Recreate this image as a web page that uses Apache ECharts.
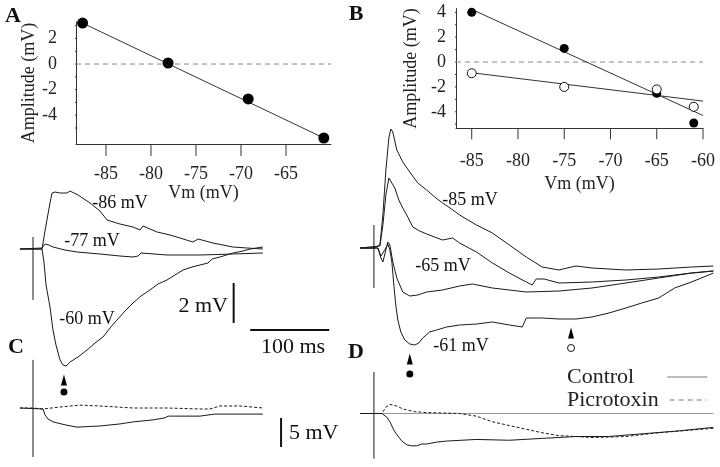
<!DOCTYPE html>
<html>
<head>
<meta charset="utf-8">
<script src="https://cdn.jsdelivr.net/npm/echarts@6/dist/echarts.min.js"></script>
<style>html,body{margin:0;padding:0;background:#fff;}#c{width:720px;height:467px;}</style>
</head>
<body>
<div id="c"></div>
<script>
// ---------- Data ----------
const vmTicksA = [-85, -80, -75, -70, -65];
const ampLabelsA = [-4, -2, 0, 2];
const ampTicksA = [-5, -4, -3, -2, -1, 0, 1, 2, 3];
const vmTicksB = [-85, -80, -75, -70, -65, -60];
const ampLabelsB = [-4, -2, 0, 2, 4];
const ampTicksB = [-5, -4, -3, -2, -1, 0, 1, 2, 3, 4];

const pointsA = [[-87.6, 3.2], [-78.1, 0.08], [-69.2, -2.73], [-60.8, -5.78]];
const fitA = [[-87.6, 3.2], [-60.8, -5.78]];
const pointsBFilled = [[-85, 4.0], [-75, 1.1], [-65, -2.52], [-61, -4.9]];
const pointsBOpen = [[-85, -0.9], [-75, -2.0], [-65, -2.2], [-61, -3.6]];
const fitBFilled = [[-85, 4.24], [-60, -4.3]];
const fitBOpen = [[-85, -0.86], [-60, -3.14]];
const zeroA = [[-88.33, 0], [-60, 0]];
const zeroB = [[-86.7, 0], [-60, 0]];

// traces (time ms, mV)
const traceA86 = [[-16.5,0],[11.4,0],[16.5,1.2],[21.5,2.3],[24.1,2.8],[27.8,2.85],[34.2,2.8],[43,2.8],[46.8,2.9],[57,2.7],[72.2,2.3],[84.8,1.9],[93.7,1.45],[110,1.25],[126.6,1.1],[135.4,0.95],[139.2,1.15],[157,0.85],[173.4,0.7],[186,0.55],[202.5,0.35],[209,0.5],[227.8,0.3],[253,0.1],[271,0.05],[291,0]];
const traceA77 = [[-16.5,0],[11.4,0.05],[15.2,0.25],[20,0.2],[25.3,0.1],[40.5,-0.05],[55.7,-0.15],[84.8,-0.25],[110,-0.35],[126.6,-0.4],[133,-0.35],[136.7,-0.2],[169.6,-0.3],[211.4,-0.3],[253,-0.25],[291,-0.2]];
const traceA60 = [[-16.5,0],[11.4,0],[13.9,-0.65],[16.5,-1.8],[21.5,-2.9],[25.3,-4.05],[29.1,-4.8],[34.2,-5.55],[38,-5.8],[41.8,-5.85],[46.8,-5.65],[57,-5.4],[68.4,-5.05],[78.5,-4.7],[88.6,-4.4],[97.5,-3.95],[106.3,-3.55],[116.5,-3.1],[126.6,-2.7],[136.7,-2.35],[148,-2.05],[158.2,-1.75],[169.6,-1.55],[179.7,-1.3],[189.9,-1.05],[201.3,-0.9],[211.4,-0.8],[221.5,-0.7],[226.6,-0.5],[236.7,-0.4],[253,-0.2],[265.8,-0.1],[274.7,0],[291,0.1]];
const stimA = [[0, 0.6], [0, -2.55]];
const barA_mV = [[254, -1.7], [254, -3.7]];
const barA_ms = [[275, -4.05], [375, -4.05]];
const arrowA = [[39.2, -6.55]];
const dotA = [[39.2, -7.15]];

const traceB85 = [[-17.7,0],[0,0],[7.6,0.15],[11.4,1.65],[15.2,3.9],[19,5.5],[21.5,5.95],[24,5.8],[29.1,4.9],[36.7,4.3],[45.6,3.8],[55.7,3.25],[67.1,2.9],[77.2,2.55],[87.3,2.25],[98.7,1.95],[108.9,1.65],[130.4,1.15],[150.6,0.75],[172.2,0.15],[193.7,-0.45],[213.9,-0.95],[235.4,-1.1],[245.6,-1.0],[257,-0.9],[277.2,-1.0],[298.7,-1.05],[320.3,-1.1],[362,-1.05],[403.8,-0.95],[431.6,-0.9]];
const traceB75 = [[-17.7,0],[7.6,0.1],[11.4,1.15],[15.2,2.65],[19,3.5],[21.5,3.4],[26.6,3.0],[31.6,2.4],[36.7,2.0],[43,1.55],[49.4,1.05],[58.2,0.85],[67.1,0.7],[87.3,0.4],[100,0.5],[108.9,0.25],[130.4,-0.2],[150.6,-0.75],[172.2,-1.25],[193.7,-1.7],[201.3,-1.85],[206.3,-1.55],[216.5,-1.55],[235.4,-1.75],[277.2,-1.7],[320.3,-1.6],[362,-1.45],[403.8,-1.25],[431.6,-1.15]];
const traceB65 = [[-17.7,0],[5,0],[8.9,-0.5],[11.4,-0.7],[15.2,-0.1],[17.7,0.3],[20.3,0.15],[24,-0.7],[29.1,-1.5],[36.7,-2.2],[45.6,-2.4],[55.7,-2.35],[67.1,-2.2],[87.3,-2.1],[108.9,-1.9],[125.3,-1.8],[150.6,-2.0],[193.7,-2.2],[235.4,-2.15],[277.2,-2.0],[320.3,-1.75],[362,-1.5],[403.8,-1.25],[431.6,-1.15]];
const traceB61 = [[-17.7,0],[5,0],[8.9,-0.4],[11.4,-0.5],[15.2,0],[17.7,0.2],[20.3,-0.1],[22.8,-0.7],[25.3,-1.85],[27.8,-2.85],[30.4,-3.6],[34.2,-4.2],[39.2,-4.6],[45.6,-4.8],[51.9,-4.85],[57,-4.75],[62,-4.5],[70.9,-4.2],[79.7,-4.1],[92.4,-3.95],[108.9,-3.85],[130.4,-3.8],[150.6,-3.7],[172.2,-3.85],[188.6,-3.95],[193.7,-3.5],[213.9,-3.5],[235.4,-3.55],[257,-3.55],[277.2,-3.45],[298.7,-3.25],[320.3,-3.0],[340.5,-2.75],[362,-2.5],[372.2,-2.25],[382.3,-2.0],[403.8,-1.7],[431.6,-1.25]];
const stimB = [[0, 1.15], [0, -2.0]];
const arrowBFilled = [[45.6, -5.55]];
const dotBFilled = [[45.6, -6.3]];
const arrowBOpen = [[250.6, -4.25]];
const dotBOpen = [[250.6, -5.0]];

const traceCControl = [[-16.5,0],[12.7,-0.17],[15.2,-1.2],[19,-1.9],[25.3,-2.4],[40.5,-2.9],[55.7,-3.3],[84.8,-3.1],[110,-2.75],[126.6,-2.4],[152,-2.05],[167,-1.7],[171,-1.4],[211.4,-1.4],[230,-1.05],[262,-1.05],[291,-1.05]];
const traceCPicro = [[-16.5,0],[0,0],[12.7,-0.17],[34.2,0.17],[59.5,0.5],[84.8,0.35],[126.6,0],[169.6,0],[211.4,-0.17],[224,-0.17],[236.7,0.35],[262,0.35],[291,0]];
const stimC = [[0, 8.3], [0, -8.45]];
const barC_mV = [[314, -1.72], [314, -6.72]];

const zeroD = [[10, 0], [431.6, 0]];
const traceDControl = [[-17.7,0],[0,0],[10.1,0],[16.5,-0.7],[20.3,-1.55],[25.3,-3.1],[29.1,-3.95],[35.4,-5.15],[41.8,-5.85],[48.1,-6.05],[54.4,-6.05],[60.8,-5.7],[67.1,-5.7],[79.7,-5.35],[92.4,-5.15],[130.4,-4.85],[172.2,-5.0],[213.9,-4.65],[257,-4.3],[298.7,-4.3],[340.5,-3.8],[383.5,-3.3],[431.6,-2.6]];
const traceDPicro = [[0,0],[10.1,0],[15.2,1.2],[20.3,1.7],[29.1,1.4],[36.7,0.85],[51.9,0.35],[67.1,0.17],[108.9,0],[130.4,-0.5],[150.6,-1.55],[172.2,-2.25],[193.7,-2.95],[213.9,-3.6],[235.4,-4.15],[257,-4.3],[277.2,-4.5],[320.3,-4.3],[362,-3.6],[403.8,-3.1],[431.6,-2.75]];
const stimD = [[0, 7.75], [0, -8.45]];

// ---------- Chart ----------
const FONT = '"Liberation Serif", "Times New Roman", serif';
const INK = '#1a1a1a';
const chart = echarts.init(document.getElementById('c'), null, {renderer: 'canvas'});

const A_X = [-88.33, -60], A_Y = [-6.25, 3.3];
const B_X = [-86.7, -60], B_Y = [-5.33, 4.3];
const GA = {left: 76, top: 21.8, width: 255, height: 122.2};
const GB = {left: 456, top: 8.6, width: 247, height: 119.7};
// pixel -> data-unit factors (layout only)
const pxA = {x: (A_X[1] - A_X[0]) / GA.width, y: (A_Y[1] - A_Y[0]) / GA.height};
const pxB = {x: (B_X[1] - B_X[0]) / GB.width, y: (B_Y[1] - B_Y[0]) / GB.height};

function hiddenX(min, max, g) { return {type: 'value', gridIndex: g, min, max, show: false}; }
function hiddenY(min, max, g) { return {type: 'value', gridIndex: g, min, max, show: false}; }
function ln(data, xi, yi, opts) {
  return Object.assign({
    type: 'line', xAxisIndex: xi, yAxisIndex: yi, data, symbol: 'none', silent: true,
    color: INK, lineStyle: {color: INK, width: 1}, z: 3
  }, opts || {});
}
function pts(data, xi, yi, symbol, size, style) {
  return {type: 'scatter', xAxisIndex: xi, yAxisIndex: yi, data, symbol, symbolSize: size,
    itemStyle: Object.assign({opacity: 1}, style), silent: true, z: 5};
}
// tick marks as broken line series positioned on the axis scale
function yTickLine(xi, yi, xAt, values, majors, majorPx, minorPx, fx) {
  const d = [];
  values.forEach(v => {
    const len = (majors.indexOf(v) >= 0 ? majorPx : minorPx) * fx;
    d.push([xAt, v], [xAt - len, v], ['-', '-']);
  });
  return ln(d, xi, yi, {clip: false, connectNulls: false, z: 6, lineStyle: {color: '#333', width: 1}});
}
function xTickLine(xi, yi, yAt, values, lenPx, fy) {
  const d = [];
  values.forEach(v => { d.push([v, yAt], [v, yAt - lenPx * fy], ['-', '-']); });
  return ln(d, xi, yi, {clip: false, connectNulls: false, z: 6, lineStyle: {color: '#333', width: 1}});
}

const axisTxt = {color: '#222', fontFamily: FONT, fontSize: 18};
const axLine = () => ({show: true, onZero: false, lineStyle: {color: '#333', width: 1}});

const option = {
  animation: false,
  backgroundColor: '#fff',
  grid: [
    GA,
    GB,
    {left: 13.25, top: 169, width: 335.75, height: 230},
    {left: 358.2, top: 118, width: 363.4, height: 270},
    {left: 13.25, top: 350, width: 335.75, height: 116},
    {left: 358.2, top: 360, width: 363.4, height: 116}
  ],
  xAxis: [
    {type: 'value', gridIndex: 0, min: A_X[0], max: A_X[1], splitLine: {show: false},
     axisLine: axLine(), axisTick: {show: false},
     axisLabel: Object.assign({customValues: vmTicksA, margin: 21}, axisTxt),
     name: 'Vm (mV)', nameLocation: 'middle', nameGap: 38, nameTextStyle: axisTxt},
    {type: 'value', gridIndex: 1, min: B_X[0], max: B_X[1], splitLine: {show: false},
     axisLine: axLine(), axisTick: {show: false},
     axisLabel: Object.assign({customValues: vmTicksB, margin: 24}, axisTxt),
     name: 'Vm (mV)', nameLocation: 'middle', nameGap: 47, nameTextStyle: axisTxt},
    hiddenX(-25, 400, 2),
    hiddenX(-20, 440, 3),
    hiddenX(-25, 400, 4),
    hiddenX(-20, 440, 5)
  ],
  yAxis: [
    {type: 'value', gridIndex: 0, min: A_Y[0], max: A_Y[1], splitLine: {show: false},
     axisLine: axLine(), axisTick: {show: false},
     axisLabel: Object.assign({customValues: ampLabelsA, margin: 19}, axisTxt),
     name: 'Amplitude (mV)', nameLocation: 'middle', nameGap: 34, nameTextStyle: axisTxt},
    {type: 'value', gridIndex: 1, min: B_Y[0], max: B_Y[1], splitLine: {show: false},
     axisLine: axLine(), axisTick: {show: false},
     axisLabel: Object.assign({customValues: ampLabelsB, margin: 10}, axisTxt),
     name: 'Amplitude (mV)', nameLocation: 'middle', nameGap: 36, nameTextStyle: axisTxt},
    hiddenY(-7.5, 4, 2),
    hiddenY(-7, 6.5, 3),
    hiddenY(-10, 10, 4),
    hiddenY(-10, 10, 5)
  ],
  legend: [
    {data: ['Control'], orient: 'vertical', left: 562, top: 361, align: 'right',
     itemWidth: 40, itemHeight: 12, selectedMode: false,
     itemStyle: {opacity: 0, color: 'rgba(0,0,0,0)', borderWidth: 0},
     lineStyle: {color: '#777', width: 1},
     textStyle: {fontFamily: FONT, fontSize: 22, color: '#222', padding: [0, 28, 0, 0]}},
    {data: ['Picrotoxin'], orient: 'vertical', left: 562, top: 384, align: 'right',
     itemWidth: 37, itemHeight: 12, selectedMode: false,
     itemStyle: {opacity: 0, color: 'rgba(0,0,0,0)', borderWidth: 0},
     lineStyle: {color: '#777', width: 1, type: [5, 4]},
     textStyle: {fontFamily: FONT, fontSize: 22, color: '#222', padding: [0, 6, 0, 0]}}
  ],
  series: [
    // axis ticks
    yTickLine(0, 0, A_X[0], ampTicksA, ampLabelsA, 13, 8, pxA.x),
    xTickLine(0, 0, A_Y[0], vmTicksA, 12, pxA.y),
    yTickLine(1, 1, B_X[0], ampTicksB, ampLabelsB, 8, 5, pxB.x),
    xTickLine(1, 1, B_Y[0], vmTicksB, 11, pxB.y),
    // A scatter
    ln(zeroA, 0, 0, {lineStyle: {color: '#888', width: 1, type: [5, 4]}}),
    ln(fitA, 0, 0, {lineStyle: {color: '#333', width: 1}}),
    pts(pointsA, 0, 0, 'circle', 11, {color: '#000'}),
    // B scatter
    ln(zeroB, 1, 1, {lineStyle: {color: '#888', width: 1, type: [5, 4]}}),
    ln(fitBFilled, 1, 1, {lineStyle: {color: '#333', width: 1}}),
    ln(fitBOpen, 1, 1, {lineStyle: {color: '#333', width: 1}}),
    pts(pointsBFilled, 1, 1, 'circle', 9, {color: '#000'}),
    pts(pointsBOpen, 1, 1, 'circle', 9, {color: '#fff', borderColor: '#111', borderWidth: 1}),
    // A traces
    ln(traceA86, 2, 2), ln(traceA77, 2, 2), ln(traceA60, 2, 2),
    ln(stimA, 2, 2),
    ln(barA_mV, 2, 2, {lineStyle: {color: '#111', width: 2}}),
    ln(barA_ms, 2, 2, {lineStyle: {color: '#111', width: 2}}),
    pts(arrowA, 2, 2, 'triangle', [6, 11], {color: '#000'}),
    pts(dotA, 2, 2, 'circle', 7, {color: '#000'}),
    // B traces
    ln(traceB85, 3, 3), ln(traceB75, 3, 3), ln(traceB65, 3, 3), ln(traceB61, 3, 3),
    ln(stimB, 3, 3),
    pts(arrowBFilled, 3, 3, 'triangle', [6, 11], {color: '#000'}),
    pts(dotBFilled, 3, 3, 'circle', 7, {color: '#000'}),
    pts(arrowBOpen, 3, 3, 'triangle', [6, 11], {color: '#000'}),
    pts(dotBOpen, 3, 3, 'circle', 7, {color: '#fff', borderColor: '#111', borderWidth: 1}),
    // C
    ln(traceCControl, 4, 4, {name: 'Control'}),
    ln(traceCPicro, 4, 4, {name: 'Picrotoxin', lineStyle: {color: INK, width: 1, type: [3, 2]}}),
    ln(stimC, 4, 4),
    ln(barC_mV, 4, 4, {lineStyle: {color: '#111', width: 2}}),
    // D
    ln(zeroD, 5, 5, {lineStyle: {color: '#999', width: 1}}),
    ln(traceDControl, 5, 5, {name: 'Control'}),
    ln(traceDPicro, 5, 5, {name: 'Picrotoxin', lineStyle: {color: INK, width: 1, type: [3, 2]}}),
    ln(stimD, 5, 5)
  ],
  graphic: [
    {type: 'text', x: 13, y: 16, style: {text: 'A', font: 'bold 22px ' + FONT, fill: '#111', align: 'center', verticalAlign: 'middle'}},
    {type: 'text', x: 356, y: 14, style: {text: 'B', font: 'bold 22px ' + FONT, fill: '#111', align: 'center', verticalAlign: 'middle'}},
    {type: 'text', x: 16, y: 347, style: {text: 'C', font: 'bold 22px ' + FONT, fill: '#111', align: 'center', verticalAlign: 'middle'}},
    {type: 'text', x: 356, y: 352, style: {text: 'D', font: 'bold 22px ' + FONT, fill: '#111', align: 'center', verticalAlign: 'middle'}},
    {type: 'text', x: 120, y: 203, style: {text: '-86 mV', font: '18px ' + FONT, fill: '#111', align: 'center', verticalAlign: 'middle'}},
    {type: 'text', x: 92, y: 241, style: {text: '-77 mV', font: '18px ' + FONT, fill: '#111', align: 'center', verticalAlign: 'middle'}},
    {type: 'text', x: 87, y: 319, style: {text: '-60 mV', font: '18px ' + FONT, fill: '#111', align: 'center', verticalAlign: 'middle'}},
    {type: 'text', x: 470, y: 200, style: {text: '-85 mV', font: '18px ' + FONT, fill: '#111', align: 'center', verticalAlign: 'middle'}},
    {type: 'text', x: 443, y: 266, style: {text: '-65 mV', font: '18px ' + FONT, fill: '#111', align: 'center', verticalAlign: 'middle'}},
    {type: 'text', x: 461, y: 346, style: {text: '-61 mV', font: '18px ' + FONT, fill: '#111', align: 'center', verticalAlign: 'middle'}},
    {type: 'text', x: 228, y: 306, style: {text: '2 mV', font: '22px ' + FONT, fill: '#111', align: 'right', verticalAlign: 'middle'}},
    {type: 'text', x: 293, y: 347, style: {text: '100 ms', font: '22px ' + FONT, fill: '#111', align: 'center', verticalAlign: 'middle'}},
    {type: 'text', x: 289, y: 433, style: {text: '5 mV', font: '22px ' + FONT, fill: '#111', align: 'left', verticalAlign: 'middle'}}
  ]
};
chart.setOption(option);
</script>
</body>
</html>
